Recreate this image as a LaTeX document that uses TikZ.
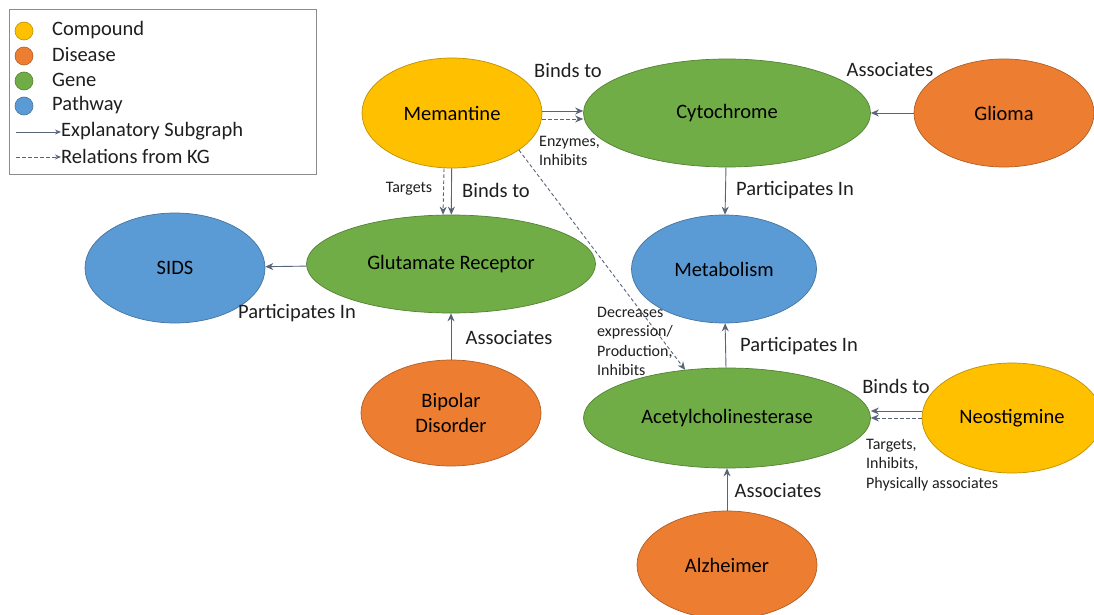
\documentclass[tikz,border=0pt]{standalone}
\usepackage{fontspec}
\setmainfont{Carlito}
\usetikzlibrary{arrows.meta,shapes.geometric}
\definecolor{cCompound}{HTML}{FFC000}
\definecolor{cDisease}{HTML}{ED7D31}
\definecolor{cGene}{HTML}{70AD47}
\definecolor{cPathway}{HTML}{5B9BD5}
\definecolor{cArrow}{HTML}{5A6478}
\definecolor{cText}{HTML}{1F1F1F}
\begin{document}
\begin{tikzpicture}[x=1pt,y=-1pt,
  ent/.style={ellipse, inner sep=0pt, draw=#1!75!black, line width=0.7pt, fill=#1,
    font=\fontsize{20.5}{25.5}\selectfont, text=black, align=center},
  sol/.style={draw=cArrow, line width=0.9pt, -{Stealth[length=8pt,width=7pt]}},
  dsh/.style={draw=cArrow, line width=0.9pt, dash pattern=on 3.5pt off 2.5pt, -{Stealth[length=8pt,width=7pt]}},
  lbl/.style={font=\fontsize{20.5}{24}\selectfont, text=cText},
  sml/.style={font=\fontsize{16}{19.5}\selectfont, text=cText, align=left, inner sep=0pt},
  legc/.style={circle, minimum size=18pt, inner sep=0pt, draw=#1!75!black, line width=0.6pt, fill=#1},
  legt/.style={font=\fontsize{20.5}{24}\selectfont, text=cText, anchor=west, inner sep=0pt}
]
\useasboundingbox (0,0) rectangle (1094,615);
\fill[white] (0,0) rectangle (1094,615);

% legend
\node[draw=black!45, line width=0.8pt, minimum width=307pt, minimum height=165pt, anchor=north west, inner sep=0pt] (legend) at (9,9) {};
\node[legc=cCompound] (lc1) at (24,31) {};
\node[legc=cDisease] (lc2) at (24,56) {};
\node[legc=cGene] (lc3) at (24,81) {};
\node[legc=cPathway] (lc4) at (24,106) {};
\node[legt] (lt1) at (52,30) {Compound};
\node[legt] (lt2) at (52,55) {Disease};
\node[legt] (lt3) at (52,80) {Gene};
\node[legt] (lt4) at (52,105) {Pathway};
\coordinate (la1) at (16,132);
\node[legt] (lt5) at (61,131) {Explanatory Subgraph};
\coordinate (la2) at (16,157);
\node[legt] (lt6) at (61,156) {Relations from KG};
\draw[sol, -{Stealth[length=6pt,width=5pt]}] (la1) -- (la1 -| lt5.west);
\draw[dsh, -{Stealth[length=6pt,width=5pt]}] (la2) -- (la2 -| lt6.west);

% entities
\node[ent=cCompound, minimum width=180pt, minimum height=110pt] (mem) at (452,113) {Memantine};
\node[ent=cGene, minimum width=287pt, minimum height=108pt] (cyto) at (727,113) {Cytochrome};
\node[ent=cDisease, minimum width=180pt, minimum height=108pt] (glioma) at (1004,113) {Glioma};
\node[ent=cPathway, minimum width=180pt, minimum height=110pt] (sids) at (175,268) {SIDS};
\node[ent=cGene, minimum width=289pt, minimum height=98pt] (glu) at (451,264) {Glutamate Receptor};
\node[ent=cPathway, minimum width=185pt, minimum height=108pt] (meta) at (724,269) {Metabolism};
\node[ent=cDisease, minimum width=180pt, minimum height=106pt] (bip) at (451,413) {Bipolar\\Disorder};
\node[ent=cGene, minimum width=287pt, minimum height=100pt] (ache) at (727,418) {Acetylcholinesterase};
\node[ent=cCompound, minimum width=180pt, minimum height=110pt] (neo) at (1012,418) {Neostigmine};
\node[ent=cDisease, minimum width=180pt, minimum height=108pt] (alz) at (727,565) {Alzheimer};

% connectors
\draw[sol] ([yshift=2pt]mem.east) -- ([yshift=2pt]cyto.west);
\draw[dsh] ([yshift=-6pt]mem.east) -- ([yshift=-6pt]cyto.west);
\draw[sol] (glioma) -- (cyto);
\draw[sol] (cyto) -- (meta);
\draw[sol] (mem) -- (glu);
\draw[dsh] ([xshift=-8pt]mem.south) -- ([xshift=-8pt]glu.north);
\draw[sol] (glu) -- (sids);
\draw[sol] (bip) -- (glu);
\draw[sol] (ache) -- (meta);
\draw[sol] (alz) -- (ache);
\draw[sol] ([yshift=7pt]neo.west) -- ([yshift=7pt]ache.east);
\draw[dsh] ([yshift=0pt]neo.west) -- ([yshift=0pt]ache.east);
\draw[dsh] (mem.-29) -- (ache.131);

% labels
\node[lbl] (l1) at (568,70) {Binds to};
\node[sml, anchor=north west] (l2) at (539,136) {Enzymes,\\Inhibits};
\node[lbl] (l3) at (890,70) {Associates};
\node[lbl] (l4) at (795,190) {Participates In};
\node[sml] (l5) at (409,189) {Targets};
\node[lbl] (l6) at (496,190) {Binds to};
\node[lbl] (l7) at (297,313) {Participates In};
\node[lbl] (l8) at (509,338) {Associates};
\node[lbl] (l9) at (799,346) {Participates In};
\node[sml, anchor=north west] (l10) at (597,307) {Decreases\\expression/\\Production,\\Inhibits};
\node[lbl] (l11) at (896,386) {Binds to};
\node[sml, anchor=north west] (l12) at (866,439) {Targets,\\Inhibits,\\Physically associates};
\node[lbl] (l13) at (778,491) {Associates};
\end{tikzpicture}
\end{document}
